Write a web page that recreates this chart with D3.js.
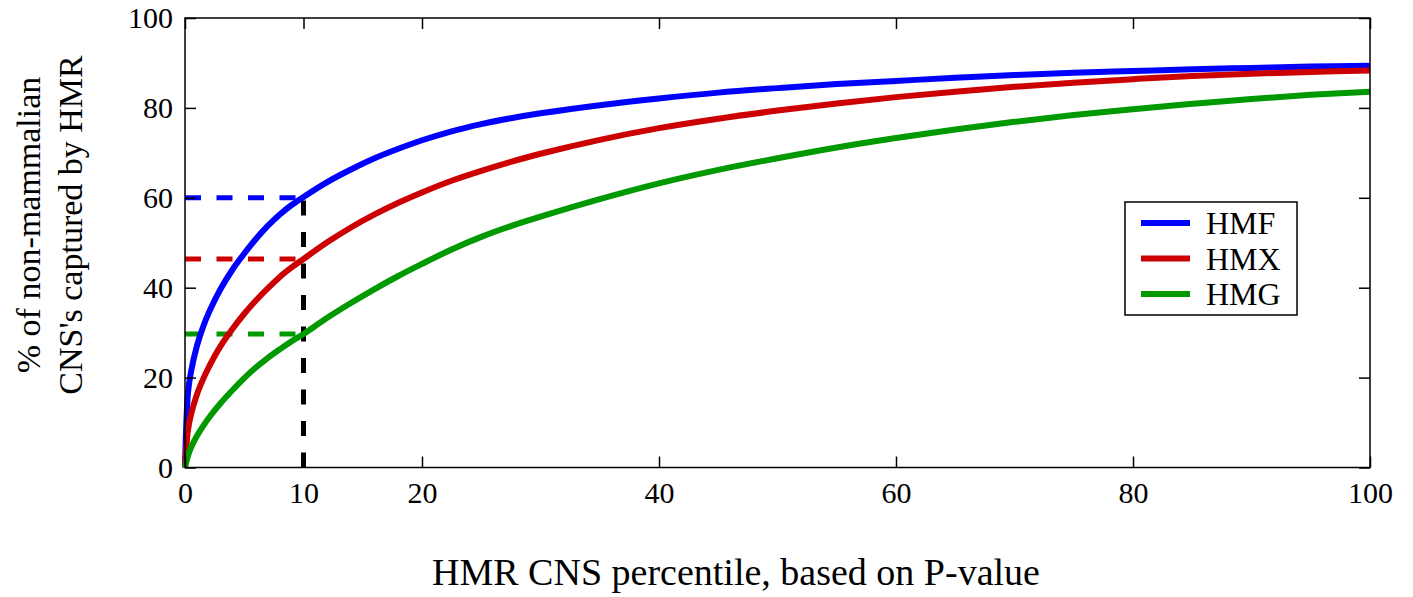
<!DOCTYPE html>
<html>
<head>
<meta charset="utf-8">
<script src="https://cdn.jsdelivr.net/npm/d3@7"></script>
<style>
  body { margin: 0; background: #fff; }
  svg text { font-family: "Liberation Serif", "Times New Roman", serif; fill: #000; }
</style>
</head>
<body>
<div id="container"></div>
<script>
// percentile grid (x) shared by the three curves
const percentile = [0, 0.25, 0.5, 1, 1.5, 2, 3, 4, 5, 6, 7, 8, 9, 10, 12, 14, 16, 18, 20, 22.5, 25, 27.5, 30, 35, 40, 45, 50, 55, 60, 65, 70, 75, 80, 85, 90, 95, 100];
const hmf = [0, 16.6, 21.2, 27, 31.1, 34.4, 39.7, 44, 47.6, 50.9, 53.8, 56.3, 58.4, 60.2, 63.5, 66.3, 68.8, 70.9, 72.8, 74.8, 76.4, 77.7, 78.8, 80.6, 82.1, 83.4, 84.4, 85.3, 86, 86.7, 87.3, 87.8, 88.2, 88.6, 88.9, 89.2, 89.4];
const hmx = [0, 8.3, 11.7, 16.2, 19.5, 22.3, 27, 30.8, 34.2, 37.2, 39.9, 42.4, 44.5, 46.4, 50.1, 53.4, 56.3, 58.9, 61.2, 63.8, 66, 68, 69.8, 72.9, 75.5, 77.6, 79.4, 81, 82.4, 83.6, 84.7, 85.6, 86.4, 87.1, 87.6, 88, 88.3];
const hmg = [0, 2.6, 4.4, 7, 9.1, 11, 14.3, 17.2, 19.9, 22.3, 24.4, 26.3, 28.1, 29.7, 33.3, 36.6, 39.7, 42.6, 45.3, 48.5, 51.3, 53.7, 55.8, 59.7, 63.2, 66.2, 68.8, 71.2, 73.3, 75.2, 76.9, 78.4, 79.7, 80.9, 82, 82.9, 83.6];

const seriesNames = ["HMF", "HMX", "HMG"];
const seriesColors = ["#0000ff", "#cc0000", "#009900"];
// values read at the 10th percentile cut
const cutX = 10;
const cutValues = [60, 46.4, 29.7];

const xTicks = [0, 10, 20, 40, 60, 80, 100];
const yTicks = [0, 20, 40, 60, 80, 100];

const W = 1413, H = 597;
const mLeft = 185, mRight = 1370, mTop = 18, mBottom = 467.5;
const tickLen = 11;

let svg, x, y;

const init = () => {
  svg = d3.select("#container")
    .append("svg")
    .attr("width", W)
    .attr("height", H);

  x = d3.scaleLinear().domain([0, 100]).range([mLeft, mRight]);
  y = d3.scaleLinear().domain([0, 100]).range([mBottom, mTop]);

  createCutLines();
  createCurves();
  createAxes();
  createLabels();
  createLegend();
}

const createCutLines = () => {
  cutValues.forEach((v, i) => {
    svg.append("line")
      .attr("x1", x(0))
      .attr("x2", x(cutX))
      .attr("y1", y(v))
      .attr("y2", y(v))
      .attr("stroke", seriesColors[i])
      .attr("stroke-width", 5)
      .attr("stroke-dasharray", "16,15.5");
  });

  svg.append("line")
    .attr("x1", x(cutX))
    .attr("x2", x(cutX))
    .attr("y1", y(0))
    .attr("y2", y(cutValues[0]))
    .attr("stroke", "#000")
    .attr("stroke-width", 5)
    .attr("stroke-dasharray", "15,16.5");
}

const createCurves = () => {
  const line = d3.line()
    .x(d => x(d[0]))
    .y(d => y(d[1]))
    .curve(d3.curveCatmullRom.alpha(0.5));

  [hmf, hmx, hmg].forEach((vals, i) => {
    svg.append("path")
      .datum(percentile.map((p, j) => [p, vals[j]]))
      .attr("fill", "none")
      .attr("stroke", seriesColors[i])
      .attr("stroke-width", 6)
      .attr("stroke-linejoin", "round")
      .attr("d", line);
  });
}

const createAxes = () => {
  // frame
  svg.append("rect")
    .attr("x", mLeft)
    .attr("y", mTop)
    .attr("width", mRight - mLeft)
    .attr("height", mBottom - mTop)
    .attr("fill", "none")
    .attr("stroke", "#000")
    .attr("stroke-width", 1.5);

  const axB = svg.append("g")
    .attr("transform", `translate(0, ${mBottom})`)
    .call(d3.axisBottom(x).tickValues(xTicks).tickSize(-tickLen).tickPadding(14).tickFormat(d3.format("d")));
  const axT = svg.append("g")
    .attr("transform", `translate(0, ${mTop})`)
    .call(d3.axisTop(x).tickValues(xTicks).tickSize(-tickLen).tickFormat(""));
  const axL = svg.append("g")
    .attr("transform", `translate(${mLeft}, 0)`)
    .call(d3.axisLeft(y).tickValues(yTicks).tickSize(-tickLen).tickPadding(12).tickFormat(d3.format("d")));
  const axR = svg.append("g")
    .attr("transform", `translate(${mRight}, 0)`)
    .call(d3.axisRight(y).tickValues(yTicks).tickSize(-tickLen).tickFormat(""));

  [axB, axT, axL, axR].forEach(a => {
    a.select(".domain").remove();
    a.selectAll(".tick line").attr("stroke", "#000").attr("stroke-width", 1.5);
    a.selectAll("text")
      .style("font-family", "'Liberation Serif', 'Times New Roman', serif")
      .style("font-size", "30px")
      .attr("fill", "#000");
  });
  axB.selectAll("text").attr("dy", "0.71em");
}

const createLabels = () => {
  svg.append("text")
    .attr("x", 736)
    .attr("y", 585)
    .attr("text-anchor", "middle")
    .style("font-size", "38px")
    .text("HMR CNS percentile, based on P-value");

  const yl = svg.append("text")
    .attr("transform", "translate(0, 225) rotate(-90)")
    .attr("text-anchor", "middle")
    .style("font-size", "34px");
  yl.append("tspan").attr("x", 0).attr("y", 40).text("% of non-mammalian");
  yl.append("tspan").attr("x", 0).attr("y", 82).text("CNS's captured by HMR");
}

const createLegend = () => {
  const legend = svg.append("g").attr("id", "legend");

  legend.append("rect")
    .attr("x", 1125)
    .attr("y", 202)
    .attr("width", 172)
    .attr("height", 113)
    .attr("fill", "#fff")
    .attr("stroke", "#000")
    .attr("stroke-width", 1.5);

  const rowY = d3.scalePoint().domain(seriesNames).range([223, 294]);

  legend.selectAll("line.item")
    .data(seriesNames)
    .join("line")
    .attr("class", "item")
    .attr("x1", 1141)
    .attr("x2", 1190)
    .attr("y1", d => rowY(d))
    .attr("y2", d => rowY(d))
    .attr("stroke", (d, i) => seriesColors[i])
    .attr("stroke-width", 6);

  legend.selectAll("text")
    .data(seriesNames)
    .join("text")
    .attr("x", 1206)
    .attr("y", d => rowY(d) + 11)
    .style("font-size", "32px")
    .text(d => d);
}

init();
</script>
</body>
</html>
